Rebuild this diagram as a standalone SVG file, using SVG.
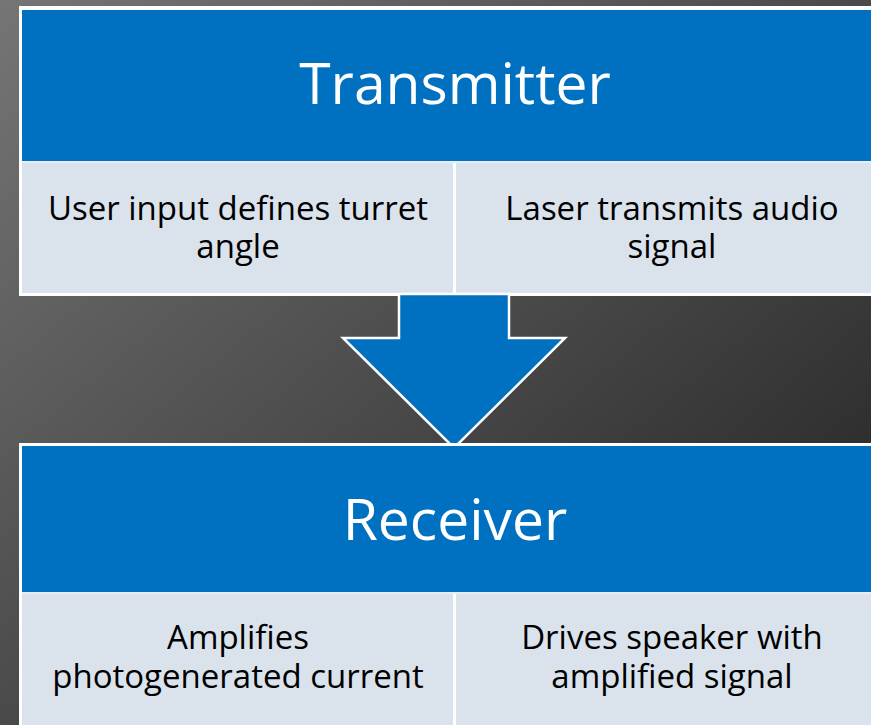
<svg xmlns="http://www.w3.org/2000/svg" width="871" height="725" viewBox="0 0 871 725">
<defs>
<linearGradient id="bg" x1="0" y1="0" x2="1" y2="1">
<stop offset="0" stop-color="#757575"/>
<stop offset="0.5" stop-color="#4a4a4a"/>
<stop offset="1" stop-color="#1e1e1e"/>
</linearGradient>
<style>
.frame{fill:#ffffff}
.head{fill:#0070c0}
.cell{fill:#dae3ec}
.title{font-family:"Open Sans","Liberation Sans",sans-serif;font-size:57px;fill:#ffffff;text-anchor:middle}
.body{font-family:"Open Sans","Liberation Sans",sans-serif;font-size:33px;fill:#000000;text-anchor:middle}
</style>
</defs>
<rect x="0" y="0" width="871" height="725" fill="url(#bg)"/>
<g id="transmitter">
<rect class="frame" x="19" y="6" width="870" height="290"/>
<rect class="head" x="22" y="10" width="866" height="151"/>
<rect x="22" y="161" width="866" height="2" fill="#e8edf2"/>
<rect class="cell" x="22" y="163" width="431" height="130"/>
<rect class="cell" x="456" y="163" width="432" height="130"/>
<text class="title" x="455" y="104">Transmitter</text>
<text class="body"><tspan x="238" y="220">User input defines turret</tspan><tspan x="238" y="258">angle</tspan></text>
<text class="body"><tspan x="672" y="220">Laser transmits audio</tspan><tspan x="672" y="258">signal</tspan></text>
</g>
<g id="connectors">
<polygon points="399,294 509,294 509,338 565,338 454,448 343,338 399,338" fill="#0070c0" stroke="#ffffff" stroke-width="2.5" stroke-linejoin="miter"/>
</g>
<g id="receiver">
<rect class="frame" x="19" y="443" width="870" height="290"/>
<rect class="head" x="22" y="446" width="866" height="146"/>
<rect x="22" y="592" width="866" height="2" fill="#e8edf2"/>
<rect class="cell" x="22" y="594" width="431" height="131"/>
<rect class="cell" x="456" y="594" width="432" height="131"/>
<text class="title" x="455" y="540">Receiver</text>
<text class="body"><tspan x="238" y="649">Amplifies</tspan><tspan x="238" y="688">photogenerated current</tspan></text>
<text class="body"><tspan x="672" y="649">Drives speaker with</tspan><tspan x="672" y="688">amplified signal</tspan></text>
</g>
</svg>
